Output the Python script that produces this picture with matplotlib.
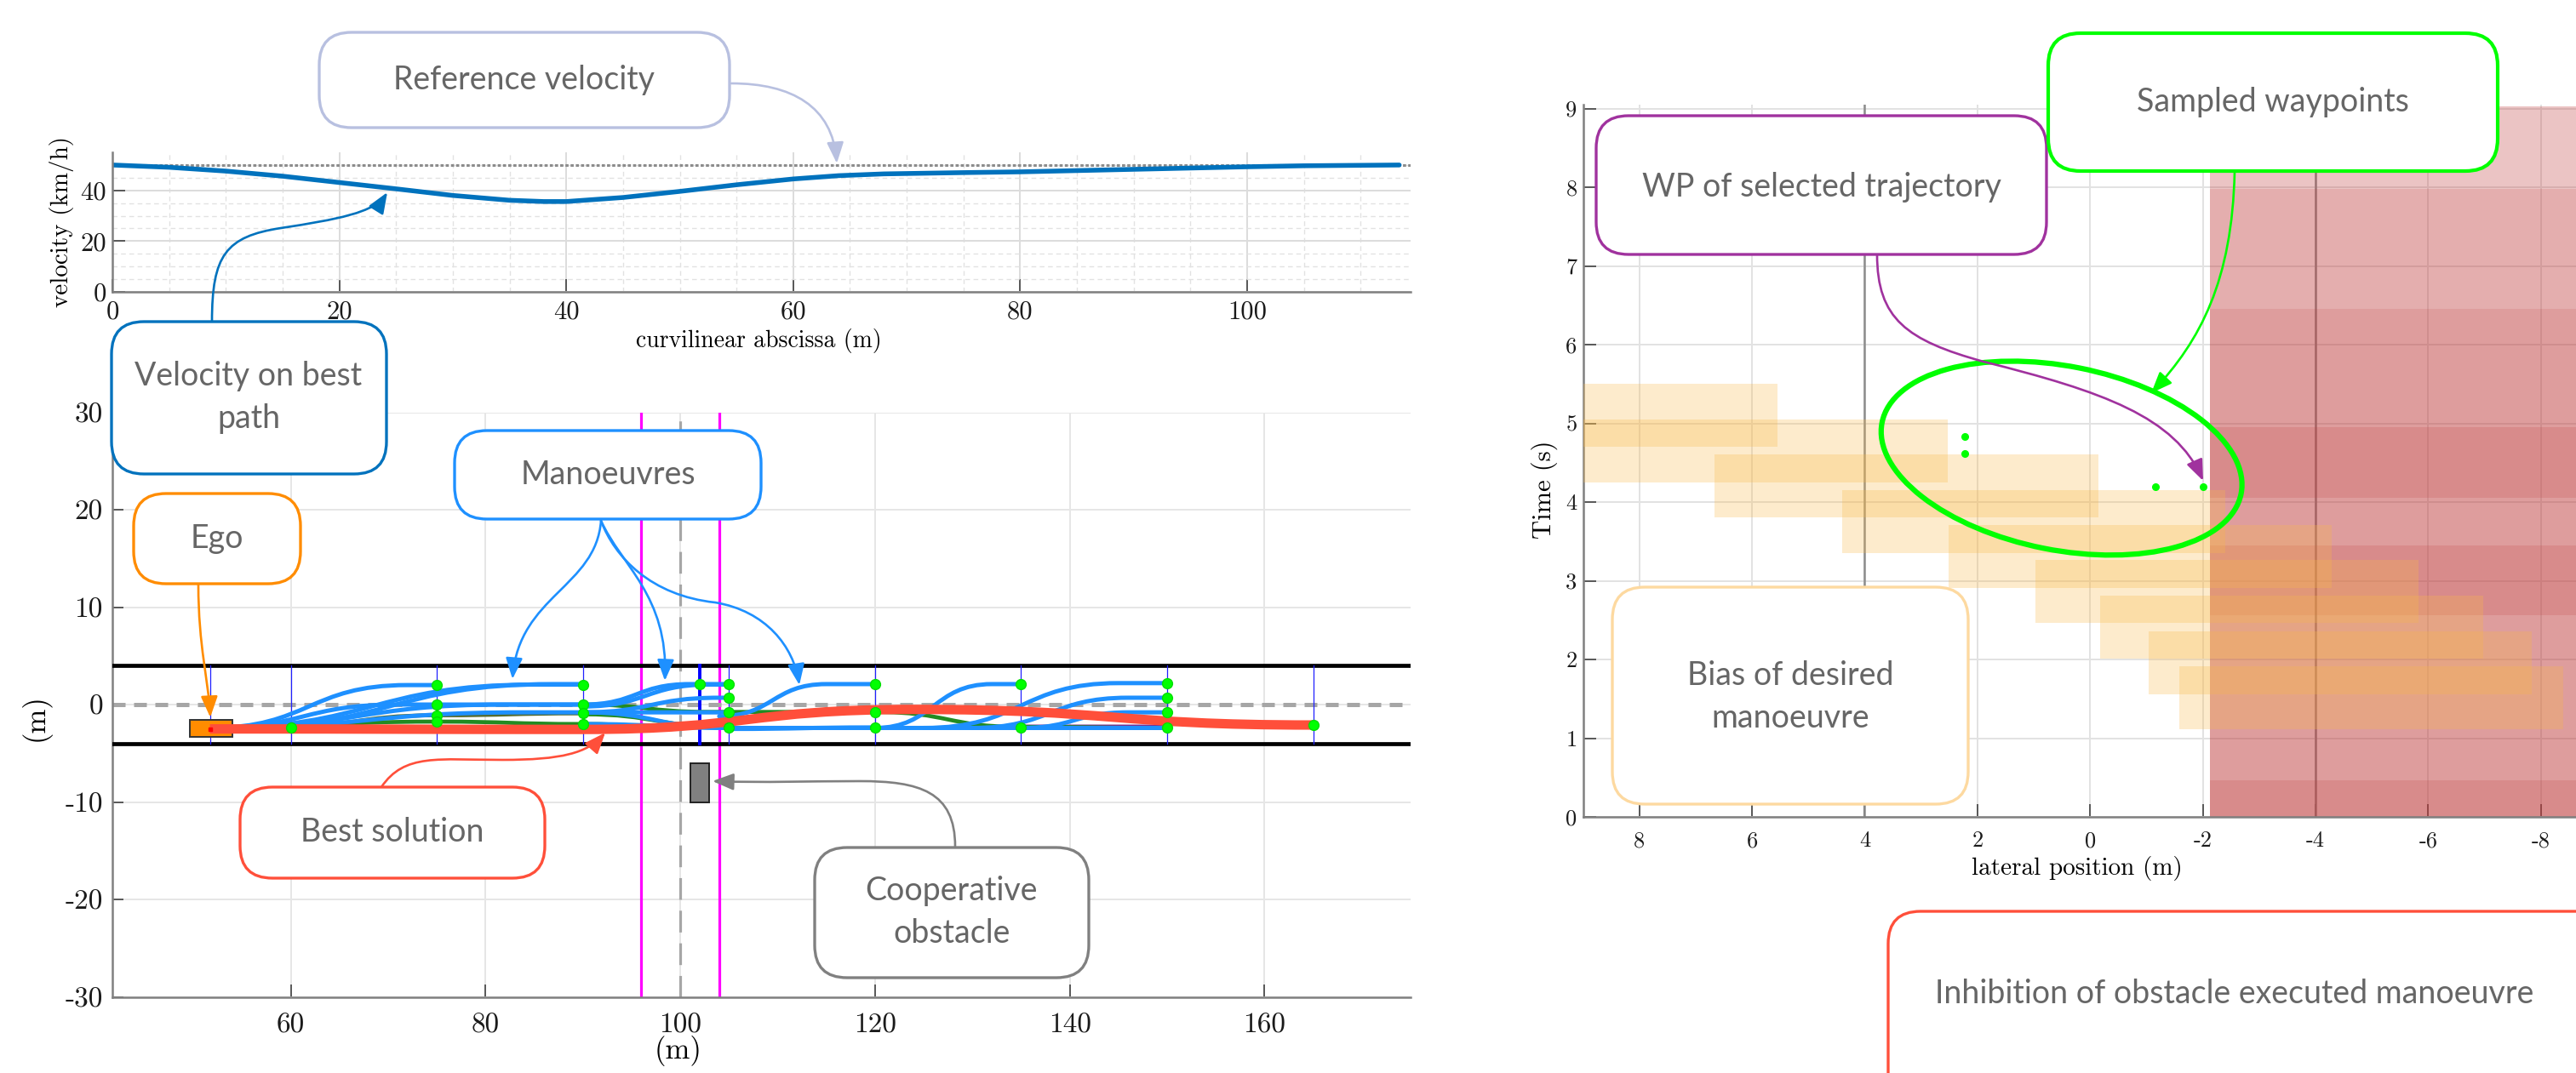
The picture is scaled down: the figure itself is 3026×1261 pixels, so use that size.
import numpy as np
import matplotlib
matplotlib.use('Agg')
import matplotlib.pyplot as plt
from matplotlib.patches import FancyBboxPatch, FancyArrowPatch, Rectangle, Ellipse, PathPatch
from matplotlib.path import Path

W, H = 3026, 1261

plt.rcParams['font.family'] = 'cmr10'
plt.rcParams['axes.unicode_minus'] = False

# ---------------------------------------------------------------- data
# velocity profile along the best path
VEL_S = [0, 5, 10, 15, 20, 25, 30, 35, 38, 40, 45, 50, 55, 60, 64, 68, 75, 80, 90, 100, 105, 113.4]
VEL_V = [50, 49.1, 47.6, 45.6, 43.1, 40.6, 38.0, 36.1, 35.6, 35.6, 37.2, 39.6, 42.2, 44.5,
         45.8, 46.5, 47.0, 47.3, 48.3, 49.3, 49.7, 50.0]
VEL_REF = 50.0
VEL_S_END = 114.4

# road scene (m)
LANE_EDGES = [4, -4]
WP_COLUMNS = [51.7, 60, 75, 90, 105, 120, 135, 150, 165]
MAGENTA_X = [96, 104]
OBSTACLE_X = 100
OBSTACLE_FRONT = 102

# manoeuvres: knots joined by smooth lane-change curves
BLUE_MANOEUVRES = [
    [(51.7, -2.4), (72, 2.0), (75, 2.0)],
    [(51.7, -2.4), (71, 0.0), (75, 0.0), (90, 0.0)],
    [(51.7, -2.4), (85, 2.05), (90, 2.05)],
    [(53.5, -2.4), (87, 2.1), (90, 2.1)],
    [(51.7, -2.4), (82, 0.0), (90, 0.0)],
    [(51.7, -2.4), (84, -0.8), (90, -0.8)],
    [(90, 0.0), (101, 2.1), (105, 2.1)],
    [(90, -0.2), (103, 2.05), (105, 2.05)],
    [(90, -0.8), (104, 0.7), (105, 0.7)],
    [(90, -0.8), (105, -0.8)],
    [(90, -0.8), (105, -2.4)],
    [(90, -2.0), (105, -2.4)],
    [(104, -1.2), (115, 2.1), (120, 2.1)],
    [(105, -2.4), (120, -2.4), (135, -2.4)],
    [(105, -2.5), (120, -2.35)],
    [(120, -2.4), (132, 2.1), (135, 2.1)],
    [(125, -2.4), (145, 2.2), (150, 2.2)],
    [(130, -2.4), (146, 0.7), (150, 0.7)],
    [(135, -2.4), (146, -0.8), (150, -0.8)],
    [(135, -2.4), (150, -2.4)],
]
GREEN_MANOEUVRES = [
    [(51.7, -2.4), (75, -1.75), (90, -2.0), (100, -2.3)],
    [(90, 0.0), (103, -0.76), (120, -0.76), (135, -2.3), (150, -2.4)],
    [(90, -1.0), (105, -2.3)],
]
OLIVE_MANOEUVRES = [
    [(58, -2.4), (75, -1.1), (90, -0.9)],
]
PURPLE_MANOEUVRES = [
    [(135, -2.2), (150, -2.2)],
]
BEST_PATH = [(51.7, -2.5), (90, -2.55), (124, -0.5), (165, -2.1)]

WP_X = [60, 75, 75, 75, 75, 90, 90, 90, 90, 102, 105, 105, 105, 105,
        120, 120, 120, 135, 135, 150, 150, 150, 150, 165]
WP_Y = [-2.4, 2.0, 0.0, -1.1, -1.75, 2.05, 0.0, -0.9, -2.0, 2.1, 2.1, 0.7, -0.8, -2.4,
        2.1, -0.8, -2.35, 2.1, -2.35, 2.2, 0.7, -0.8, -2.4, -2.1]

EGO_X, EGO_Y, EGO_L, EGO_W = 49.6, -3.35, 4.4, 1.8
OBS_X, OBS_Y, OBS_L, OBS_W = 101, -10, 2, 4

# time / lateral position plane
BIAS_LAT_LO = [5.55, 2.52, -0.14, -2.40, -4.29, -5.83, -6.97, -7.84, -8.39]
BIAS_LAT_HI = [12.35, 9.32, 6.66, 4.40, 2.51, 0.97, -0.17, -1.04, -1.59]
BIAS_T_LO = [4.70, 4.25, 3.81, 3.35, 2.91, 2.46, 2.01, 1.56, 1.11]
BIAS_T_HI = [5.50, 5.05, 4.61, 4.15, 3.71, 3.26, 2.81, 2.36, 1.91]

INHIB_LAT = (-2.12, -12)
INHIB_T_LO = [0.0, 0.47, 2.56, 3.45, 4.06, 4.95, 6.45, 7.98]
INHIB_T_HI = [0.47, 2.56, 3.45, 4.06, 4.95, 6.45, 7.98, 9.03]
INHIB_LEVEL = [0.595, 0.50, 0.595, 0.50, 0.595, 0.50, 0.415, 0.30]

LANE_LINES = [4, -4]
SAMPLED_LAT = [2.22, 2.22, -1.16, -2.0]
SAMPLED_T = [4.83, 4.62, 4.20, 4.19]


# ---------------------------------------------------------------- helpers
def px(x, y):
    """pixel (top-left origin) -> inches for fig.dpi_scale_trans"""
    return (x / 100.0, (H - y) / 100.0)


def axes_rect(x0, y0, x1, y1):
    return [x0 / W, 1 - y1 / H, (x1 - x0) / W, (y1 - y0) / H]


def smooth_path(knots):
    verts = [knots[0]]
    codes = [Path.MOVETO]
    for (x0, y0), (x1, y1) in zip(knots[:-1], knots[1:]):
        xm = (x0 + x1) / 2
        verts += [(xm, y0), (xm, y1), (x1, y1)]
        codes += [Path.CURVE4] * 3
    return Path(verts, codes)


def draw_manoeuvres(ax, paths, color, lw, z):
    for k in paths:
        ax.add_patch(PathPatch(smooth_path(k), fill=False, edgecolor=color, lw=lw,
                               capstyle='round', joinstyle='round', zorder=z))


def style_axes(ax, labelsize):
    for s in ['top', 'right']:
        ax.spines[s].set_visible(False)
    for s in ['left', 'bottom']:
        ax.spines[s].set_color('#808080')
        ax.spines[s].set_linewidth(1.8)
    ax.tick_params(which='major', direction='in', length=11, width=1.3, color='#4d4d4d',
                   labelsize=labelsize, labelcolor='#1a1a1a')
    ax.tick_params(which='minor', length=0)
    ax.set_axisbelow(True)


TEXT_FONT = dict(family=['Lato', 'Open Sans', 'DejaVu Sans'], fontweight='normal',
                 color='#666666', fontsize=27)


def callout(fig, text, box, color, center, lw=2.4):
    x0, y0, x1, y1 = box
    fig.add_artist(FancyBboxPatch(px(x0, y1), (x1 - x0) / 100, (y1 - y0) / 100,
                                  boxstyle='round,pad=0,rounding_size=0.38',
                                  transform=fig.dpi_scale_trans, facecolor='white',
                                  edgecolor=color, lw=lw, zorder=20))
    fig.text(*px(*center), text, transform=fig.dpi_scale_trans, ha='center', va='center',
             linespacing=1.45, zorder=21, **TEXT_FONT)


def arrow(fig, pts, color, lw=1.9):
    verts = [px(*p) for p in pts]
    codes = [Path.MOVETO] + [Path.CURVE4] * (len(pts) - 1)
    fig.add_artist(FancyArrowPatch(path=Path(verts, codes), transform=fig.dpi_scale_trans,
                                   arrowstyle='-|>,head_length=15,head_width=6',
                                   color=color, lw=lw, zorder=19))


fig = plt.figure(figsize=(W / 100, H / 100), dpi=100, facecolor='white')

# ---------------------------------------------------------------- velocity
ax1 = fig.add_axes(axes_rect(132, 179, 1657, 343))
style_axes(ax1, 22)
ax1.plot([0, VEL_S_END], [VEL_REF, VEL_REF], ls=(0, (1.2, 0.8)), color='#8c8c8c', lw=2.2)
ax1.plot(VEL_S, VEL_V, color='#0072BD', lw=4.0, solid_capstyle='round')
ax1.set_xlim(0, VEL_S_END)
ax1.set_ylim(0, 55)
ax1.set_xticks(range(0, 101, 20))
ax1.set_xticklabels([str(v) for v in range(0, 101, 20)])
ax1.set_xticks(np.arange(0, 115, 5), minor=True)
ax1.set_yticks([0, 20, 40])
ax1.set_yticklabels(['0', '20', '40'])
ax1.set_yticks(np.arange(0, 55, 5), minor=True)
ax1.grid(which='major', color='#dcdcdc', lw=1.4)
ax1.grid(which='minor', color='#e2e2e2', lw=1.0, ls=(0, (4, 3)))
ax1.tick_params(axis='x', pad=7)
ax1.tick_params(axis='y', pad=5)
ax1.set_xlabel('curvilinear abscissa (m)', fontsize=20, va='center')
ax1.xaxis.set_label_coords(0.498, -0.348)
ax1.set_ylabel('velocity (km/h)', fontsize=21, va='center')
ax1.yaxis.set_label_coords(-0.0387, 0.506)

# ---------------------------------------------------------------- road scene
ax2 = fig.add_axes(axes_rect(132, 484.5, 1657, 1171.5))
style_axes(ax2, 24)
ax2.set_xlim(41.68, 175.0)
ax2.set_ylim(-30, 30)
ax2.set_xticks(range(60, 161, 20))
ax2.set_xticklabels([str(v) for v in range(60, 161, 20)])
ax2.set_yticks(range(-30, 31, 10))
ax2.set_yticklabels([str(v) for v in range(-30, 31, 10)])
ax2.grid(color='#e6e6e6', lw=1.4)
ax2.tick_params(axis='x', pad=14)
ax2.tick_params(axis='y', pad=8, length=9)

for xm in MAGENTA_X:
    ax2.axvline(xm, color='#FF00FF', lw=2.3, zorder=2)
ax2.axvline(OBSTACLE_X, color='#A6A6A6', lw=2.3, dashes=(8, 4), zorder=2)
ax2.axhline(0, color='#A6A6A6', lw=3.6, dashes=(3, 2), zorder=2)
for ye in LANE_EDGES:
    ax2.axhline(ye, color='black', lw=3.4, zorder=3)
for xc in WP_COLUMNS:
    ax2.plot([xc, xc], [-4, 4], color='#2020FF', lw=0.9, zorder=3)
ax2.plot([OBSTACLE_FRONT, OBSTACLE_FRONT], [-4, 4], color='#0000FF', lw=2.8, zorder=3)

draw_manoeuvres(ax2, GREEN_MANOEUVRES, '#228B22', 3.4, 4)
draw_manoeuvres(ax2, OLIVE_MANOEUVRES, '#556B2F', 3.4, 4)
draw_manoeuvres(ax2, PURPLE_MANOEUVRES, '#7E2F8E', 2.4, 3.9)
draw_manoeuvres(ax2, BLUE_MANOEUVRES, '#1E90FF', 3.6, 5)

ax2.add_patch(Rectangle((EGO_X, EGO_Y), EGO_L, EGO_W, facecolor='#FF8C00',
                        edgecolor='#333333', lw=1.4, zorder=6))
ax2.add_patch(Rectangle((OBS_X, OBS_Y), OBS_L, OBS_W, facecolor='#808080',
                        edgecolor='#222222', lw=1.4, zorder=6))
ax2.add_patch(PathPatch(smooth_path(BEST_PATH), fill=False, edgecolor='#FF4F3A', lw=8,
                        capstyle='butt', zorder=7))
ax2.plot(WP_X, WP_Y, 'o', color='#00FF00', ms=8.5, mec='#00DD00', zorder=8)
ax2.plot([BEST_PATH[0][0]], [BEST_PATH[0][1]], 's', color='#FF0000', ms=3, zorder=9)

ax2.set_xlabel('(m)', fontsize=25, va='center')
ax2.xaxis.set_label_coords(0.436, -0.0924)
ax2.set_ylabel('(m)', fontsize=25, va='center')
ax2.yaxis.set_label_coords(-0.059, 0.478)

# ---------------------------------------------------------------- time / lateral plane
ax3 = fig.add_axes(axes_rect(1859.5, 123, 3051, 960))
style_axes(ax3, 19)
ax3.set_xlim(9, -9)
ax3.set_ylim(0, 9.05)
lat_ticks = [8, 6, 4, 2, 0, -2, -4, -6, -8]
ax3.set_xticks(lat_ticks)
ax3.set_xticklabels([str(v) for v in lat_ticks])
ax3.set_yticks(range(0, 10))
ax3.set_yticklabels([str(v) for v in range(0, 10)])
ax3.grid(color='#e2e2e2', lw=1.4)
ax3.tick_params(axis='x', pad=12)
ax3.tick_params(axis='y', pad=5)

for xl in LANE_LINES:
    ax3.plot([xl, xl], [0, 9.05], color='#8c8c8c', lw=1.8, zorder=1)
for t0, t1, a in zip(INHIB_T_LO, INHIB_T_HI, INHIB_LEVEL):
    ax3.add_patch(Rectangle((INHIB_LAT[0], t0), INHIB_LAT[1] - INHIB_LAT[0], t1 - t0,
                            facecolor='#BE3C3C', alpha=a, lw=0, zorder=2))
for lo, hi, t0, t1 in zip(BIAS_LAT_LO, BIAS_LAT_HI, BIAS_T_LO, BIAS_T_HI):
    ax3.add_patch(Rectangle((lo, t0), hi - lo, t1 - t0, facecolor='#F9B94A',
                            alpha=0.28, lw=0, zorder=3))
ax3.plot(SAMPLED_LAT, SAMPLED_T, 'o', color='#00FF00', ms=5.5, zorder=6)
ax3.set_xlabel('lateral position (m)', fontsize=21, va='center')
ax3.xaxis.set_label_coords(0.487, -0.0717)
ax3.set_ylabel('Time (s)', fontsize=22, va='center')
ax3.yaxis.set_label_coords(-0.0382, 0.46)

# highlight of the sampled waypoints
fig.add_artist(Ellipse(px(2421.7, 538.4), 4.30, 2.16, angle=-11.25,
                       transform=fig.dpi_scale_trans, fill=False,
                       edgecolor='#00FF00', lw=4.5, zorder=15))

# ---------------------------------------------------------------- call-outs
arrow(fig, [(859, 98), (930, 98), (978, 125), (983, 192)], '#B8C0E0')
arrow(fig, [(249, 378), (249, 300), (265, 278), (330, 268),
            (395, 258), (440, 250), (455, 226)], '#0072BD')
arrow(fig, [(233, 687), (233, 760), (245, 800), (247, 843)], '#FF8C00')
arrow(fig, [(706, 612), (700, 690), (610, 700), (602, 798)], '#1E90FF')
arrow(fig, [(706, 612), (730, 665), (785, 700), (781, 800)], '#1E90FF')
arrow(fig, [(706, 612), (722, 655), (765, 700), (840, 708),
            (900, 718), (932, 760), (939, 805)], '#1E90FF')
arrow(fig, [(448, 925), (475, 885), (515, 893), (590, 893),
            (660, 893), (690, 885), (711, 861)], '#FF4F3A')
arrow(fig, [(1122, 995), (1122, 930), (1080, 918), (1010, 918),
            (950, 918), (900, 920), (837, 918)], '#808080')
arrow(fig, [(2205, 299), (2205, 375), (2240, 400), (2330, 425),
            (2470, 460), (2555, 490), (2588, 565)], '#A0329E')
arrow(fig, [(2625, 202), (2622, 330), (2585, 400), (2527, 462)], '#00FF00')

callout(fig, 'Reference velocity', (375, 38, 857, 150), '#B8C0E0', (616, 94))
callout(fig, 'Velocity on best\npath', (131, 378, 454, 557), '#0072BD', (292, 467))
callout(fig, 'Ego', (157, 580, 353, 686), '#FF8C00', (255, 633))
callout(fig, 'Manoeuvres', (534, 506, 894, 610), '#1E90FF', (714, 558))
callout(fig, 'Best solution', (282, 925, 640, 1032), '#FF4F3A', (461, 978))
callout(fig, 'Cooperative\nobstacle', (957, 996, 1279, 1149), '#808080', (1118, 1072))
callout(fig, 'WP of selected trajectory', (1875, 136, 2404, 299), '#A0329E', (2140, 220))
callout(fig, 'Sampled waypoints', (2406, 39, 2934, 201), '#00FF00', (2670, 120), lw=3.0)
callout(fig, 'Bias of desired\nmanoeuvre', (1894, 690, 2312, 945), '#FDD9A0', (2103, 819))
callout(fig, 'Inhibition of obstacle executed manoeuvre', (2218, 1071, 3070, 1310),
        '#FF4F3A', (2625, 1168))

fig.savefig('out.png', dpi=100, facecolor='white')
